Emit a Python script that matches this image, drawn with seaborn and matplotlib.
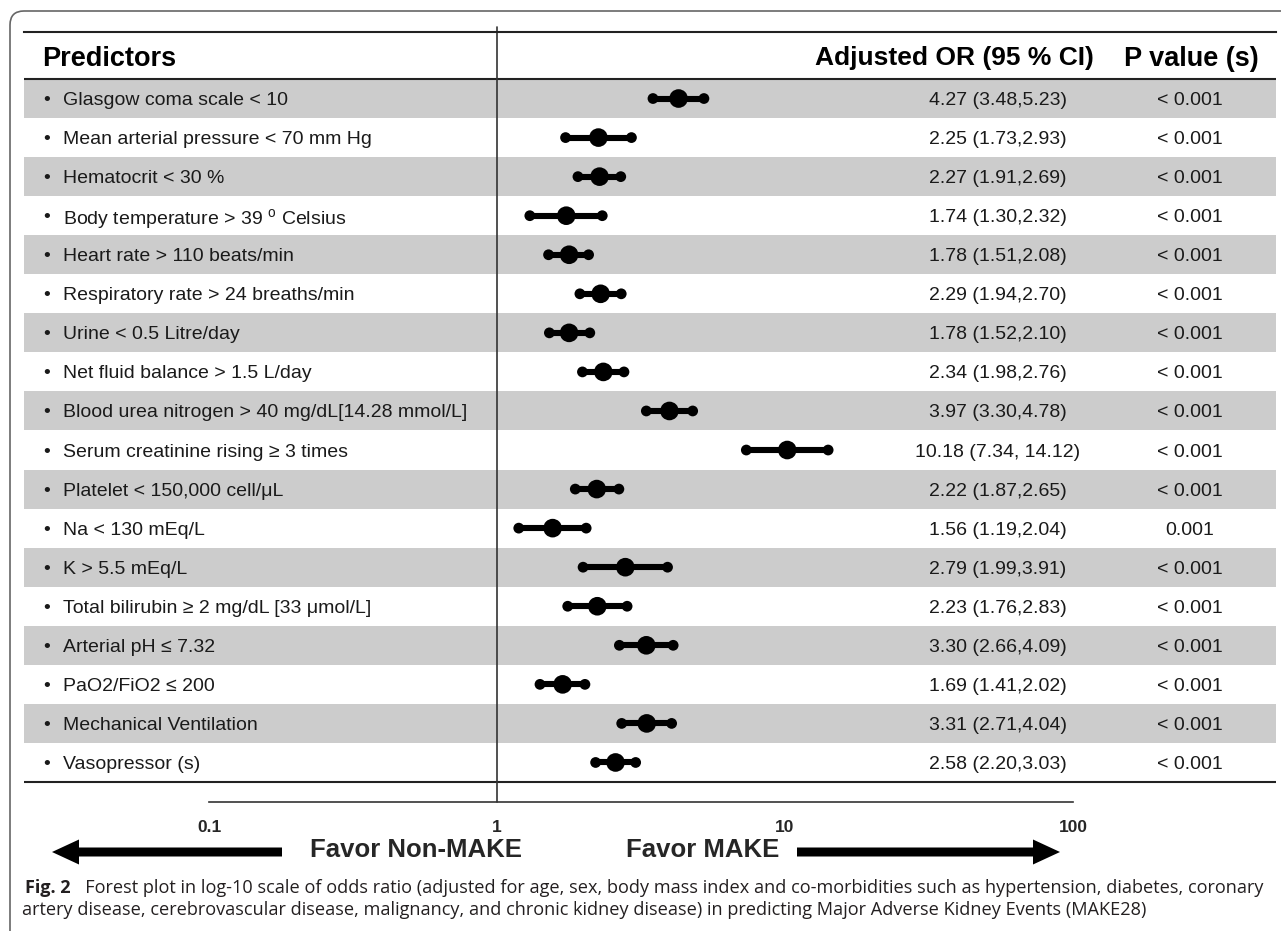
import numpy as np
import matplotlib
matplotlib.use("Agg")
import matplotlib.pyplot as plt
import seaborn as sns
import pandas as pd
from matplotlib.patches import FancyBboxPatch, FancyArrow
from matplotlib import transforms

# ---------------- data ----------------
predictors = [
    "Glasgow coma scale < 10",
    "Mean arterial pressure < 70 mm Hg",
    "Hematocrit < 30 %",
    r"Body temperature > 39 $^{\mathrm{o}}$ Celsius",
    "Heart rate > 110 beats/min",
    "Respiratory rate > 24 breaths/min",
    "Urine < 0.5 Litre/day",
    "Net fluid balance > 1.5 L/day",
    "Blood urea nitrogen > 40 mg/dL[14.28 mmol/L]",
    "Serum creatinine rising \u2265 3 times",
    "Platelet < 150,000 cell/\u03bcL",
    "Na < 130 mEq/L",
    "K > 5.5 mEq/L",
    "Total bilirubin \u2265 2 mg/dL [33 \u03bcmol/L]",
    "Arterial pH \u2264 7.32",
    "PaO2/FiO2 \u2264 200",
    "Mechanical Ventilation",
    "Vasopressor (s)",
]
odds_ratio = [4.27, 2.25, 2.27, 1.74, 1.78, 2.29, 1.78, 2.34, 3.97, 10.18,
              2.22, 1.56, 2.79, 2.23, 3.30, 1.69, 3.31, 2.58]
ci_low = [3.48, 1.73, 1.91, 1.30, 1.51, 1.94, 1.52, 1.98, 3.30, 7.34,
          1.87, 1.19, 1.99, 1.76, 2.66, 1.41, 2.71, 2.20]
ci_high = [5.23, 2.93, 2.69, 2.32, 2.08, 2.70, 2.10, 2.76, 4.78, 14.12,
           2.65, 2.04, 3.91, 2.83, 4.09, 2.02, 4.04, 3.03]
ci_text = ["4.27 (3.48,5.23)", "2.25 (1.73,2.93)", "2.27 (1.91,2.69)",
           "1.74 (1.30,2.32)", "1.78 (1.51,2.08)", "2.29 (1.94,2.70)",
           "1.78 (1.52,2.10)", "2.34 (1.98,2.76)", "3.97 (3.30,4.78)",
           "10.18 (7.34, 14.12)", "2.22 (1.87,2.65)", "1.56 (1.19,2.04)",
           "2.79 (1.99,3.91)", "2.23 (1.76,2.83)", "3.30 (2.66,4.09)",
           "1.69 (1.41,2.02)", "3.31 (2.71,4.04)", "2.58 (2.20,3.03)"]
p_values = ["< 0.001"] * 11 + ["0.001"] + ["< 0.001"] * 6
x_ticks = [0.1, 1, 10, 100]
x_tick_labels = ["0.1", "1", "10", "100"]
headers = ["Predictors", "Adjusted OR (95 % CI)", "P value (s)"]
caption_bold = "Fig. 2"
caption_line1 = ("Forest plot in log-10 scale of odds ratio (adjusted for age, sex, body mass index "
                 "and co-morbidities such as hypertension, diabetes, coronary")
caption_line2 = ("artery disease, cerebrovascular disease, malignancy, and chronic kidney disease) "
                 "in predicting Major Adverse Kidney Events (MAKE28)")

# ---------------- style ----------------
sns.set_style("white")
plt.rcParams["font.family"] = ["Liberation Sans", "DejaVu Sans"]
plt.rcParams["mathtext.fontset"] = "custom"
plt.rcParams["mathtext.rm"] = "Liberation Sans"
plt.rcParams["mathtext.it"] = "Liberation Sans:italic"
plt.rcParams["mathtext.bf"] = "Liberation Sans:bold"

W, H = 1281, 931
fig = plt.figure(figsize=(W / 100, H / 100), dpi=100)

# axes geometry in pixels
ax_left, ax_right = 24, 1276
ax_top, ax_bottom = 32, 802
x_one, decade = 497, 288
row_top, row_h = 79, (782 - 79) / 18

ax = fig.add_axes([ax_left / W, (H - ax_bottom) / H,
                   (ax_right - ax_left) / W, (ax_bottom - ax_top) / H])
ax.set_xscale("log")
ax.set_xlim(10 ** ((ax_left - x_one) / decade), 10 ** ((ax_right - x_one) / decade))
y_top = -0.5 - (row_top - ax_top) / row_h
y_bot = len(predictors) - 0.5 + (ax_bottom - (row_top + 18 * row_h)) / row_h
ax.set_ylim(y_bot, y_top)

n = len(predictors)
rows = np.arange(n)
df = pd.DataFrame({"row": rows, "or": odds_ratio, "lo": ci_low, "hi": ci_high})

# shaded bands
for i in range(0, n, 2):
    ax.axhspan(i - 0.5, i + 0.5, color="#cccccc", lw=0, zorder=0)

# table rules
ax.axhline(-0.5, color="#222222", lw=1.5, zorder=1)
ax.axhline(n - 0.5, color="#222222", lw=1.5, zorder=1)
ax.axvline(1, ymin=0, ymax=1.007, color="#333333", lw=1.2, clip_on=False, zorder=1)

# CI lines and markers
ax.hlines(df["row"], df["lo"], df["hi"], color="black", lw=4.4, zorder=3)
ends = pd.concat([df[["row", "lo"]].rename(columns={"lo": "x"}),
                  df[["row", "hi"]].rename(columns={"hi": "x"})])
sns.scatterplot(data=ends, x="x", y="row", s=60, color="black", edgecolor="none",
                ax=ax, zorder=4, legend=False)
sns.scatterplot(data=df, x="or", y="row", s=180, color="black", edgecolor="none",
                ax=ax, zorder=5, legend=False)

# text columns
tr = transforms.blended_transform_factory(ax.transAxes, ax.transData)
fx = lambda px: (px - ax_left) / (ax_right - ax_left)
txt_color = "#1a1a1a"
for i in range(n):
    ax.text(fx(43), i, "\u2022", transform=tr, va="center_baseline", ha="left",
            fontsize=14, color=txt_color)
    ax.text(fx(63), i, predictors[i], transform=tr, va="center_baseline", ha="left",
            fontsize=14, color=txt_color)
    ax.text(fx(998), i, ci_text[i], transform=tr, va="center_baseline", ha="center",
            fontsize=14, color=txt_color)
    ax.text(fx(1190), i, p_values[i], transform=tr, va="center_baseline", ha="center",
            fontsize=14, color=txt_color)

yh = (y_top - 0.5) / 2
ax.text(fx(42), yh, headers[0], transform=tr, va="center_baseline", ha="left",
        fontsize=19.5, fontweight="bold", color="black")
ax.text(fx(954), yh, headers[1], transform=tr, va="center_baseline", ha="center",
        fontsize=19, fontweight="bold", color="black")
ax.text(fx(1191), yh, headers[2], transform=tr, va="center_baseline", ha="center",
        fontsize=19.5, fontweight="bold", color="black")

# axes decoration
for s in ["left", "right"]:
    ax.spines[s].set_visible(False)
ax.spines["top"].set_color("#222222")
ax.spines["top"].set_linewidth(1.5)
ax.spines["bottom"].set_color("#333333")
ax.spines["bottom"].set_linewidth(1.2)
ax.spines["bottom"].set_bounds(x_ticks[0], x_ticks[-1])
ax.set_xticks(x_ticks)
ax.set_xticklabels(x_tick_labels, fontsize=12.5, fontweight="bold")
ax.xaxis.set_minor_locator(matplotlib.ticker.NullLocator())
ax.tick_params(axis="x", direction="in", length=5, width=1.2, color="#333333", pad=13)
ax.set_yticks([])
ax.set_xlabel("")
ax.set_ylabel("")
ax.grid(False)

# favour labels and arrows (pixel -> inch coordinates)
T = fig.dpi_scale_trans
def iy(py):
    return (H - py) / 100
fig.text(310 / 100, iy(850), "Favor Non-MAKE", transform=T, ha="left", va="center",
         fontsize=18.5, fontweight="bold")
fig.text(626 / 100, iy(850), "Favor MAKE", transform=T, ha="left", va="center",
         fontsize=18.5, fontweight="bold")
fig.add_artist(FancyArrow(2.82, iy(852), -(2.82 - 0.52), 0, width=0.09, head_width=0.25,
                          head_length=0.27, length_includes_head=True, transform=T,
                          color="black", lw=0))
fig.add_artist(FancyArrow(7.97, iy(852), 10.60 - 7.97, 0, width=0.09, head_width=0.25,
                          head_length=0.27, length_includes_head=True, transform=T,
                          color="black", lw=0))

# caption
cap_color = "#231f20"
cap_family = ["Open Sans", "DejaVu Sans"]
t_bold = fig.text(25 / 100, iy(888), caption_bold, transform=T, ha="left", va="center",
                  fontsize=13, fontweight="bold", family=cap_family, color=cap_color)
ax.annotate("   " + caption_line1, xy=(1, 0.5), xycoords=t_bold, ha="left", va="center",
            fontsize=13.1, family=cap_family, color=cap_color, annotation_clip=False)
fig.text(22 / 100, iy(910), caption_line2, transform=T, ha="left", va="center",
         fontsize=13.1, family=cap_family, color=cap_color)

# rounded outer border (runs off the right and bottom edges)
fig.add_artist(FancyBboxPatch((0.10, -0.5), 14.5, iy(11) + 0.5,
                              boxstyle="round,pad=0,rounding_size=0.14", transform=T,
                              fill=False, ec="#666666", lw=1.2))

fig.savefig("out.png", dpi=100)
